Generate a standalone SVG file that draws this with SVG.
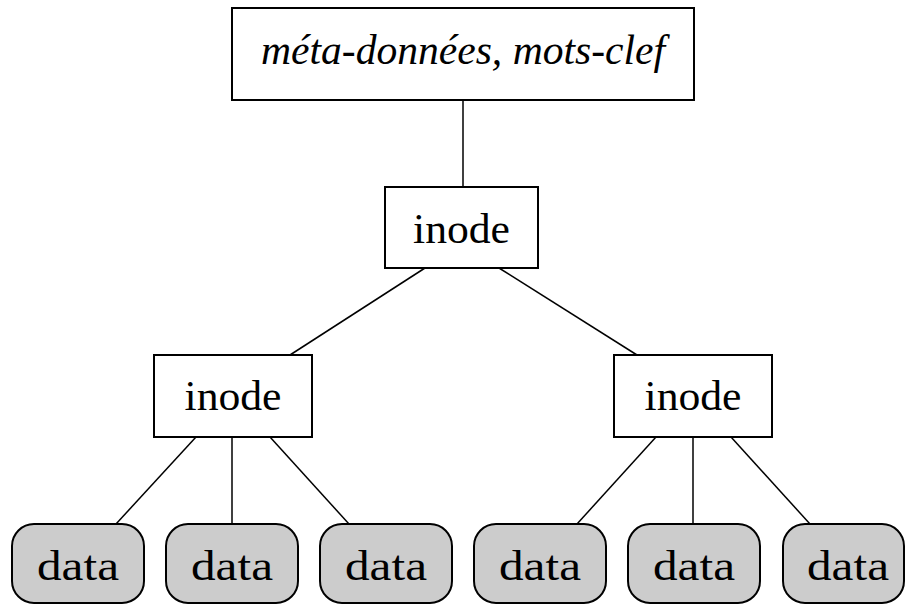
<svg xmlns="http://www.w3.org/2000/svg" width="906" height="604" viewBox="0 0 906 604">
  <style>
    .box { fill: #ffffff; stroke: #000000; stroke-width: 2; }
    .leaf { fill: #cccccc; stroke: #000000; stroke-width: 2; }
    .edge { stroke: #000000; stroke-width: 1.5; fill: none; }
    .lbl { font-family: "Liberation Serif", "DejaVu Serif", serif; font-size: 43px; fill: #000000; text-anchor: middle; }
    .it { font-style: italic; }
  </style>
  <rect width="906" height="604" fill="#ffffff"/>
  <g id="connectors">
    <line class="edge" x1="463" y1="100" x2="463" y2="187"/>
    <line class="edge" x1="425" y1="268" x2="290" y2="355"/>
    <line class="edge" x1="499" y1="268" x2="637" y2="355"/>
    <line class="edge" x1="196" y1="437" x2="116" y2="524"/>
    <line class="edge" x1="232" y1="437" x2="232" y2="524"/>
    <line class="edge" x1="270" y1="437" x2="349" y2="524"/>
    <line class="edge" x1="656" y1="437" x2="577" y2="524"/>
    <line class="edge" x1="693" y1="437" x2="693" y2="524"/>
    <line class="edge" x1="731" y1="437" x2="810" y2="524"/>
  </g>
  <g id="meta">
    <rect class="box" x="232" y="8" width="462" height="92"/>
    <text class="lbl it" x="463" y="64" textLength="404" lengthAdjust="spacingAndGlyphs">méta-données, mots-clef</text>
  </g>
  <g id="inode-root">
    <rect class="box" x="385" y="187" width="153" height="81"/>
    <text class="lbl" x="461.5" y="243" textLength="97" lengthAdjust="spacingAndGlyphs">inode</text>
  </g>
  <g id="inode-left">
    <rect class="box" x="154" y="355" width="158" height="82"/>
    <text class="lbl" x="233" y="410" textLength="97" lengthAdjust="spacingAndGlyphs">inode</text>
  </g>
  <g id="inode-right">
    <rect class="box" x="614" y="355" width="158" height="82"/>
    <text class="lbl" x="693" y="410" textLength="97" lengthAdjust="spacingAndGlyphs">inode</text>
  </g>
  <g id="data-1">
    <rect class="leaf" x="12" y="524" width="132" height="79" rx="22"/>
    <text class="lbl" x="78" y="580" textLength="82" lengthAdjust="spacingAndGlyphs">data</text>
  </g>
  <g id="data-2">
    <rect class="leaf" x="166" y="524" width="132" height="79" rx="22"/>
    <text class="lbl" x="232" y="580" textLength="82" lengthAdjust="spacingAndGlyphs">data</text>
  </g>
  <g id="data-3">
    <rect class="leaf" x="320" y="524" width="132" height="79" rx="22"/>
    <text class="lbl" x="386" y="580" textLength="82" lengthAdjust="spacingAndGlyphs">data</text>
  </g>
  <g id="data-4">
    <rect class="leaf" x="474" y="524" width="132" height="79" rx="22"/>
    <text class="lbl" x="540" y="580" textLength="82" lengthAdjust="spacingAndGlyphs">data</text>
  </g>
  <g id="data-5">
    <rect class="leaf" x="628" y="524" width="132" height="79" rx="22"/>
    <text class="lbl" x="694" y="580" textLength="82" lengthAdjust="spacingAndGlyphs">data</text>
  </g>
  <g id="data-6">
    <rect class="leaf" x="783" y="524" width="121" height="79" rx="22"/>
    <text class="lbl" x="848" y="580" textLength="82" lengthAdjust="spacingAndGlyphs">data</text>
  </g>
</svg>
